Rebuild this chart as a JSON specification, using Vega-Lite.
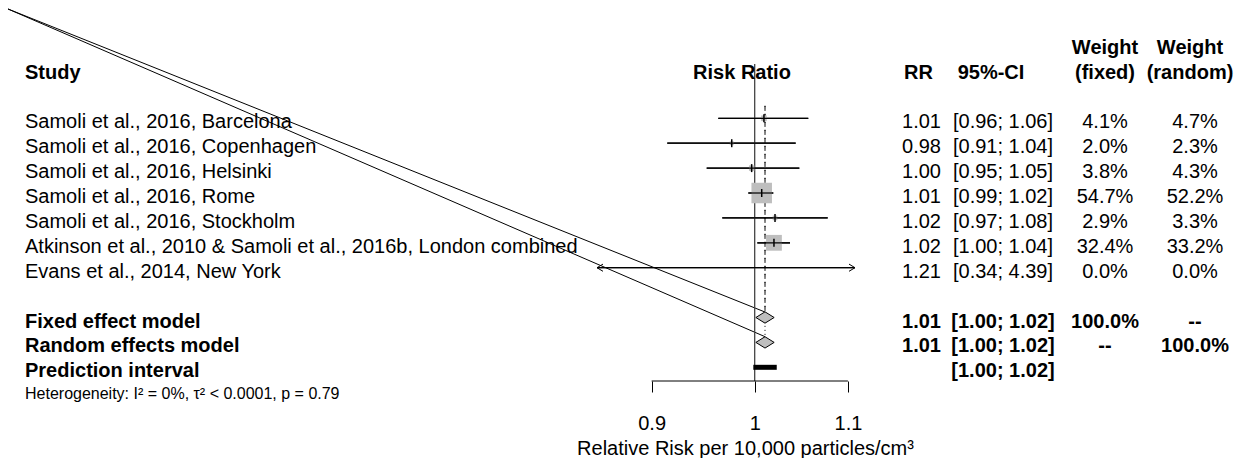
{
  "$schema": "https://vega.github.io/schema/vega-lite/v6.json",
  "padding": {"left": 7, "top": 8, "right": 0, "bottom": 0},
  "spacing": 0,
  "bounds": "flush",
  "config": {
    "view": {"stroke": null},
    "text": {"font": "Liberation Sans", "fontSize": 20, "color": "black", "baseline": "middle", "dy": 4}
  },
  "datasets": {
    "rows": [
      {"row": 1, "type": "study", "label": "Samoli et al., 2016, Barcelona", "est": 1.0095, "lower": 0.9635, "upper": 1.0563, "w": 4.1, "rr": "1.01", "ci": "[0.96; 1.06]", "wf": "4.1%", "wr": "4.7%"},
      {"row": 2, "type": "study", "label": "Samoli et al., 2016, Copenhagen", "est": 0.9768, "lower": 0.9145, "upper": 1.0428, "w": 2.0, "rr": "0.98", "ci": "[0.91; 1.04]", "wf": "2.0%", "wr": "2.3%"},
      {"row": 3, "type": "study", "label": "Samoli et al., 2016, Helsinki", "est": 0.9969, "lower": 0.9521, "upper": 1.0467, "w": 3.8, "rr": "1.00", "ci": "[0.95; 1.05]", "wf": "3.8%", "wr": "4.3%"},
      {"row": 4, "type": "study", "label": "Samoli et al., 2016, Rome", "est": 1.0072, "lower": 0.9935, "upper": 1.0192, "w": 54.7, "rr": "1.01", "ci": "[0.99; 1.02]", "wf": "54.7%", "wr": "52.2%"},
      {"row": 5, "type": "study", "label": "Samoli et al., 2016, Stockholm", "est": 1.021, "lower": 0.9674, "upper": 1.0775, "w": 2.9, "rr": "1.02", "ci": "[0.97; 1.08]", "wf": "2.9%", "wr": "3.3%"},
      {"row": 6, "type": "study", "label": "Atkinson et al., 2010 & Samoli et al., 2016b, London combined", "est": 1.0199, "lower": 1.0027, "upper": 1.0368, "w": 32.4, "rr": "1.02", "ci": "[1.00; 1.04]", "wf": "32.4%", "wr": "33.2%"},
      {"row": 7, "type": "study", "label": "Evans et al., 2014, New York", "est": 1.21, "lower": 0.34, "upper": 4.39, "w": 0.0, "rr": "1.21", "ci": "[0.34; 4.39]", "wf": "0.0%", "wr": "0.0%"},
      {"row": 9, "type": "fixed", "label": "Fixed effect model", "est": 1.0106, "lower": 1.0013, "upper": 1.0202, "w": 100, "rr": "1.01", "ci": "[1.00; 1.02]", "wf": "100.0%", "wr": "--"},
      {"row": 10, "type": "random", "label": "Random effects model", "est": 1.0106, "lower": 1.0013, "upper": 1.0202, "w": 100, "rr": "1.01", "ci": "[1.00; 1.02]", "wf": "--", "wr": "100.0%"},
      {"row": 11, "type": "pred", "label": "Prediction interval", "lower": 0.9986, "upper": 1.0228, "rr": "", "ci": "[1.00; 1.02]", "wf": "", "wr": ""},
      {"row": 12, "type": "het", "label": "Heterogeneity: I² = 0%, τ² < 0.0001, p = 0.79"}
    ],
    "headers": [
      {"col": "study", "row": -1, "label": "Study"},
      {"col": "forest", "row": -1, "label": "Risk Ratio"},
      {"col": "rr", "row": -1, "label": "RR"},
      {"col": "ci", "row": -1, "label": "95%-CI"},
      {"col": "wf", "row": -2, "label": "Weight"},
      {"col": "wf", "row": -1, "label": "(fixed)"},
      {"col": "wr", "row": -2, "label": "Weight"},
      {"col": "wr", "row": -1, "label": "(random)"}
    ],
    "lines": [
      {"kind": "ref", "x": 1},
      {"kind": "axis", "x": 0.9, "x2": 1.1, "row": 11.55},
      {"kind": "fixed", "x": 1.0106, "row": 0.5, "row2": 9},
      {"kind": "random", "x": 1.0106, "row": 0.5, "row2": 10},
      {"kind": "artifact", "x": 1.0106, "x2": 0.46608, "row": 8.78, "row2": -3.3896},
      {"kind": "artifact", "x": 1.0106, "x2": 0.46608, "row": 9.77, "row2": -3.3896}
    ]
  },
  "hconcat": [
    {
      "width": 572, "height": 317,
      "layer": [
        {"data": {"name": "headers"}, "transform": [{"filter": "datum.col === 'study'"}],
         "mark": {"type": "text", "align": "left", "fontWeight": "bold"},
         "encoding": {"x": {"value": 0}, "y": {"field": "row", "type": "quantitative", "scale": {"domain": [-1.181, 11.55], "reverse": true, "nice": false, "zero": false}, "axis": null}, "text": {"field": "label", "type": "nominal"}}},
        {"data": {"name": "rows"}, "transform": [{"filter": "datum.type === 'study'"}],
         "mark": {"type": "text", "align": "left"},
         "encoding": {"x": {"value": 0}, "y": {"field": "row", "type": "quantitative", "axis": null}, "text": {"field": "label", "type": "nominal"}}},
        {"data": {"name": "rows"}, "transform": [{"filter": "datum.type === 'fixed' || datum.type === 'random' || datum.type === 'pred'"}],
         "mark": {"type": "text", "align": "left", "fontWeight": "bold"},
         "encoding": {"x": {"value": 0}, "y": {"field": "row", "type": "quantitative", "axis": null}, "text": {"field": "label", "type": "nominal"}}},
        {"data": {"name": "rows"}, "transform": [{"filter": "datum.type === 'het'"}],
         "mark": {"type": "text", "align": "left", "fontSize": 16, "dy": 2},
         "encoding": {"x": {"value": 0}, "y": {"field": "row", "type": "quantitative", "axis": null}, "text": {"field": "label", "type": "nominal"}}}
      ]
    },
    {
      "width": 258, "height": 317,
      "layer": [
        {"data": {"name": "rows"}, "transform": [{"filter": "datum.type === 'study'"}],
         "mark": {"type": "rule", "color": "black", "strokeWidth": 1.2, "clip": true},
         "encoding": {
           "x": {"field": "lower", "type": "quantitative",
                 "scale": {"type": "log", "domain": [0.8511, 1.108], "nice": false, "zero": false},
                 "axis": {"values": [0.9, 1, 1.1], "format": "~g", "domain": false, "grid": false, "ticks": true, "tickSize": 11, "tickColor": "black", "tickWidth": 1,
                          "labelFont": "Liberation Sans", "labelFontSize": 20, "labelColor": "black", "labelPadding": 21, "labelFlush": false, "labelOverlap": false,
                          "title": "Relative Risk per 10,000 particles/cm³", "titleFont": "Liberation Sans", "titleFontSize": 20, "titleFontWeight": "normal", "titleColor": "black", "titlePadding": 5, "titleX": 148}},
           "x2": {"field": "upper"},
           "y": {"field": "row", "type": "quantitative", "scale": {"domain": [-1.181, 11.55], "reverse": true, "nice": false, "zero": false}, "axis": null}
         }},
        {"data": {"name": "lines"}, "transform": [{"filter": "datum.kind === 'artifact'"}],
         "mark": {"type": "rule", "color": "black", "strokeWidth": 1},
         "encoding": {"x": {"field": "x", "type": "quantitative"}, "x2": {"field": "x2"}, "y": {"field": "row", "type": "quantitative", "axis": null}, "y2": {"field": "row2"}}},
        {"data": {"name": "lines"}, "transform": [{"filter": "datum.kind === 'ref'"}],
         "mark": {"type": "rule", "color": "#444444", "strokeWidth": 1.3},
         "encoding": {"x": {"field": "x", "type": "quantitative"}}},
        {"data": {"name": "lines"}, "transform": [{"filter": "datum.kind === 'axis'"}],
         "mark": {"type": "rule", "color": "black", "strokeWidth": 1},
         "encoding": {"x": {"field": "x", "type": "quantitative"}, "x2": {"field": "x2"}, "y": {"field": "row", "type": "quantitative", "axis": null}}},
        {"data": {"name": "lines"}, "transform": [{"filter": "datum.kind === 'fixed'"}],
         "mark": {"type": "rule", "color": "black", "strokeWidth": 1, "strokeDash": [4, 4]},
         "encoding": {"x": {"field": "x", "type": "quantitative"}, "y": {"field": "row", "type": "quantitative", "axis": null}, "y2": {"field": "row2"}}},
        {"data": {"name": "lines"}, "transform": [{"filter": "datum.kind === 'random'"}],
         "mark": {"type": "rule", "color": "black", "strokeWidth": 1, "strokeDash": [1, 3]},
         "encoding": {"x": {"field": "x", "type": "quantitative"}, "y": {"field": "row", "type": "quantitative", "axis": null}, "y2": {"field": "row2"}}},
        {"data": {"name": "rows"}, "transform": [{"filter": "datum.type === 'study' && datum.est < 1.108"}],
         "mark": {"type": "point", "shape": "square", "filled": true, "color": "#bebebe", "opacity": 1},
         "encoding": {"x": {"field": "est", "type": "quantitative"}, "y": {"field": "row", "type": "quantitative", "axis": null},
                      "size": {"field": "w", "type": "quantitative", "scale": {"domain": [0, 100], "range": [0, 770], "zero": true}, "legend": null}}},
        {"data": {"name": "rows"}, "transform": [{"filter": "datum.type === 'study'"}],
         "mark": {"type": "rule", "color": "black", "strokeWidth": 1.2, "clip": true},
         "encoding": {"x": {"field": "lower", "type": "quantitative"}, "x2": {"field": "upper"}, "y": {"field": "row", "type": "quantitative", "axis": null}}},
        {"data": {"name": "rows"}, "transform": [{"filter": "datum.type === 'study' && datum.est < 1.108"}],
         "mark": {"type": "point", "shape": "M 0 -1 L 0 1", "filled": false, "color": "black", "strokeWidth": 1.5, "size": 64, "opacity": 1},
         "encoding": {"x": {"field": "est", "type": "quantitative"}, "y": {"field": "row", "type": "quantitative", "axis": null}}},
        {"data": {"name": "rows"}, "transform": [{"filter": "datum.type === 'study' && datum.lower < 0.8511"}],
         "mark": {"type": "point", "shape": "M 1 -0.6 L 0 0 L 1 0.6", "filled": false, "color": "black", "strokeWidth": 1, "size": 144, "opacity": 1},
         "encoding": {"x": {"value": 0}, "y": {"field": "row", "type": "quantitative", "axis": null}}},
        {"data": {"name": "rows"}, "transform": [{"filter": "datum.type === 'study' && datum.upper > 1.108"}],
         "mark": {"type": "point", "shape": "M -1 -0.6 L 0 0 L -1 0.6", "filled": false, "color": "black", "strokeWidth": 1, "size": 144, "opacity": 1},
         "encoding": {"x": {"value": "width"}, "y": {"field": "row", "type": "quantitative", "axis": null}}},
        {"data": {"name": "rows"}, "transform": [{"filter": "datum.type === 'pred'"}],
         "mark": {"type": "rule", "color": "black", "strokeWidth": 5, "strokeCap": "butt"},
         "encoding": {"x": {"field": "lower", "type": "quantitative"}, "x2": {"field": "upper"}, "y": {"field": "row", "type": "quantitative", "axis": null}}},
        {"data": {"name": "rows"}, "transform": [{"filter": "datum.type === 'fixed' || datum.type === 'random'"}],
         "mark": {"type": "point", "shape": "M -1 0 L 0 -0.62 L 1 0 L 0 0.62 Z", "filled": true, "fill": "#bebebe", "stroke": "black", "strokeWidth": 1, "size": 335, "opacity": 1},
         "encoding": {"x": {"field": "est", "type": "quantitative"}, "y": {"field": "row", "type": "quantitative", "axis": null}}},
        {"data": {"name": "headers"}, "transform": [{"filter": "datum.col === 'forest'"}],
         "mark": {"type": "text", "fontWeight": "bold", "dx": 16},
         "encoding": {"y": {"field": "row", "type": "quantitative", "axis": null}, "text": {"field": "label", "type": "nominal"}}}
      ]
    },
    {
      "width": 133, "height": 317,
      "layer": [
        {"data": {"name": "headers"}, "transform": [{"filter": "datum.col === 'rr'"}],
         "mark": {"type": "text", "fontWeight": "bold", "dx": -3},
         "encoding": {"y": {"field": "row", "type": "quantitative", "scale": {"domain": [-1.181, 11.55], "reverse": true, "nice": false, "zero": false}, "axis": null}, "text": {"field": "label", "type": "nominal"}}},
        {"data": {"name": "rows"}, "transform": [{"filter": "datum.type === 'study'"}],
         "mark": {"type": "text"},
         "encoding": {"y": {"field": "row", "type": "quantitative", "axis": null}, "text": {"field": "rr", "type": "nominal"}}},
        {"data": {"name": "rows"}, "transform": [{"filter": "datum.type === 'fixed' || datum.type === 'random'"}],
         "mark": {"type": "text", "fontWeight": "bold"},
         "encoding": {"y": {"field": "row", "type": "quantitative", "axis": null}, "text": {"field": "rr", "type": "nominal"}}}
      ]
    },
    {
      "width": 30, "height": 317,
      "layer": [
        {"data": {"name": "headers"}, "transform": [{"filter": "datum.col === 'ci'"}],
         "mark": {"type": "text", "fontWeight": "bold", "dx": -12},
         "encoding": {"y": {"field": "row", "type": "quantitative", "scale": {"domain": [-1.181, 11.55], "reverse": true, "nice": false, "zero": false}, "axis": null}, "text": {"field": "label", "type": "nominal"}}},
        {"data": {"name": "rows"}, "transform": [{"filter": "datum.type === 'study'"}],
         "mark": {"type": "text"},
         "encoding": {"y": {"field": "row", "type": "quantitative", "axis": null}, "text": {"field": "ci", "type": "nominal"}}},
        {"data": {"name": "rows"}, "transform": [{"filter": "datum.type === 'fixed' || datum.type === 'random' || datum.type === 'pred'"}],
         "mark": {"type": "text", "fontWeight": "bold"},
         "encoding": {"y": {"field": "row", "type": "quantitative", "axis": null}, "text": {"field": "ci", "type": "nominal"}}}
      ]
    },
    {
      "width": 174, "height": 317,
      "layer": [
        {"data": {"name": "headers"}, "transform": [{"filter": "datum.col === 'wf'"}],
         "mark": {"type": "text", "fontWeight": "bold"},
         "encoding": {"y": {"field": "row", "type": "quantitative", "scale": {"domain": [-1.181, 11.55], "reverse": true, "nice": false, "zero": false}, "axis": null}, "text": {"field": "label", "type": "nominal"}}},
        {"data": {"name": "rows"}, "transform": [{"filter": "datum.type === 'study'"}],
         "mark": {"type": "text"},
         "encoding": {"y": {"field": "row", "type": "quantitative", "axis": null}, "text": {"field": "wf", "type": "nominal"}}},
        {"data": {"name": "rows"}, "transform": [{"filter": "datum.type === 'fixed' || datum.type === 'random'"}],
         "mark": {"type": "text", "fontWeight": "bold"},
         "encoding": {"y": {"field": "row", "type": "quantitative", "axis": null}, "text": {"field": "wf", "type": "nominal"}}}
      ]
    },
    {
      "width": 6, "height": 317,
      "layer": [
        {"data": {"name": "headers"}, "transform": [{"filter": "datum.col === 'wr'"}],
         "mark": {"type": "text", "fontWeight": "bold", "dx": -5},
         "encoding": {"y": {"field": "row", "type": "quantitative", "scale": {"domain": [-1.181, 11.55], "reverse": true, "nice": false, "zero": false}, "axis": null}, "text": {"field": "label", "type": "nominal"}}},
        {"data": {"name": "rows"}, "transform": [{"filter": "datum.type === 'study'"}],
         "mark": {"type": "text"},
         "encoding": {"y": {"field": "row", "type": "quantitative", "axis": null}, "text": {"field": "wr", "type": "nominal"}}},
        {"data": {"name": "rows"}, "transform": [{"filter": "datum.type === 'fixed' || datum.type === 'random'"}],
         "mark": {"type": "text", "fontWeight": "bold"},
         "encoding": {"y": {"field": "row", "type": "quantitative", "axis": null}, "text": {"field": "wr", "type": "nominal"}}}
      ]
    }
  ]
}
